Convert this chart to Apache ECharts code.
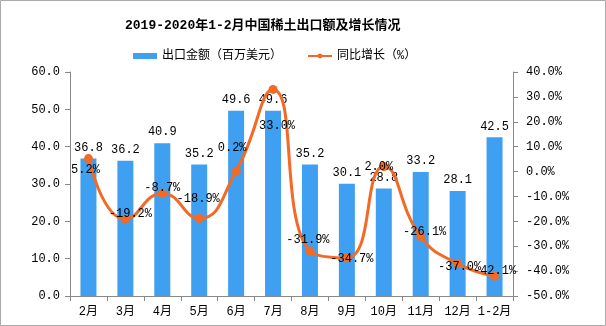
<!DOCTYPE html>
<html><head><meta charset="utf-8">
<script src="https://cdn.jsdelivr.net/npm/echarts@6/dist/echarts.min.js"></script>
<style>html,body{margin:0;padding:0;background:#fff}#c{width:606px;height:326px}</style>
</head><body><div id="c"></div>
<script>
const categories = ['2月','3月','4月','5月','6月','7月','8月','9月','10月','11月','12月','1-2月'];
const exportValues = [36.8,36.2,40.9,35.2,49.6,49.6,35.2,30.1,28.8,33.2,28.1,42.5];
const growthValues = [5.2,-19.2,-8.7,-18.9,0.2,33.0,-31.9,-34.7,2.0,-26.1,-37.0,-42.1];
const leftTicks = {min:0,max:60,interval:10};
const rightTicks = {min:-50,max:40,interval:10};
// label offsets (style only)
const growthLabelOffsets = [[-3,11],[5,-6],[0,-5],[-1,-20],[-4,-23],[4,36],[-2,-11],[5,1],[-5,0],[4,-5],[2,3],[0,-6]];

const FONT = '"Liberation Mono","Noto Sans CJK SC",monospace';
const chart = echarts.init(document.getElementById('c'));
chart.setOption({
  animation:false,
  backgroundColor:'#fff',
  graphic:[{type:'rect',shape:{x:0.5,y:0.5,width:605,height:325},style:{fill:'none',stroke:'#aaa',lineWidth:1}}],
  title:{text:'2019-2020年1-2月中国稀土出口额及增长情况',left:120,top:14,
    textStyle:{fontFamily:FONT,fontSize:13,fontWeight:'bold',color:'#000'}},
  legend:{top:45,left:128,itemGap:25,itemWidth:24,itemHeight:6,
    textStyle:{fontFamily:FONT,fontSize:12,color:'#000'},
    data:[{name:'出口金额（百万美元）',icon:'rect'},{name:'同比增长（%）'}]},
  grid:{left:70,right:93,top:72,bottom:30},
  xAxis:{type:'category',data:categories,
    axisLine:{lineStyle:{color:'#888'}},
    axisTick:{show:true,alignWithLabel:false,length:5,interval:0,lineStyle:{color:'#888'}},
    axisLabel:{fontFamily:FONT,fontSize:12,color:'#000',margin:10,interval:0}},
  yAxis:[
    {type:'value',min:leftTicks.min,max:leftTicks.max,interval:leftTicks.interval,
      axisLine:{show:true,lineStyle:{color:'#888'}},axisTick:{show:true,length:5,lineStyle:{color:'#888'}},
      splitLine:{show:false},
      axisLabel:{fontFamily:FONT,fontSize:12,color:'#000',margin:10,formatter:v=>v.toFixed(1)}},
    {type:'value',min:rightTicks.min,max:rightTicks.max,interval:rightTicks.interval,position:'right',
      axisLine:{show:true,lineStyle:{color:'#888'}},axisTick:{show:true,length:5,lineStyle:{color:'#888'}},
      splitLine:{show:false},
      axisLabel:{fontFamily:FONT,fontSize:12,color:'#000',margin:13,formatter:v=>v.toFixed(1)+'%'}}
  ],
  series:[
    {name:'出口金额（百万美元）',type:'bar',barWidth:16,data:exportValues,
      itemStyle:{color:'#3f9ff0'},
      label:{show:true,position:'top',fontFamily:FONT,fontSize:12,color:'#000',formatter:p=>p.value.toFixed(1)}},
    {name:'同比增长（%）',type:'line',yAxisIndex:1,smooth:0.5,symbol:'circle',symbolSize:9,
      lineStyle:{color:'#f26a25',width:3},itemStyle:{color:'#f26a25'},
      data:growthValues.map((v,i)=>({value:v,label:{position:'inside',offset:growthLabelOffsets[i]}})),
      label:{show:true,fontFamily:FONT,fontSize:12,color:'#000',formatter:p=>p.value.toFixed(1)+'%'}}
  ]
});
</script></body></html>
